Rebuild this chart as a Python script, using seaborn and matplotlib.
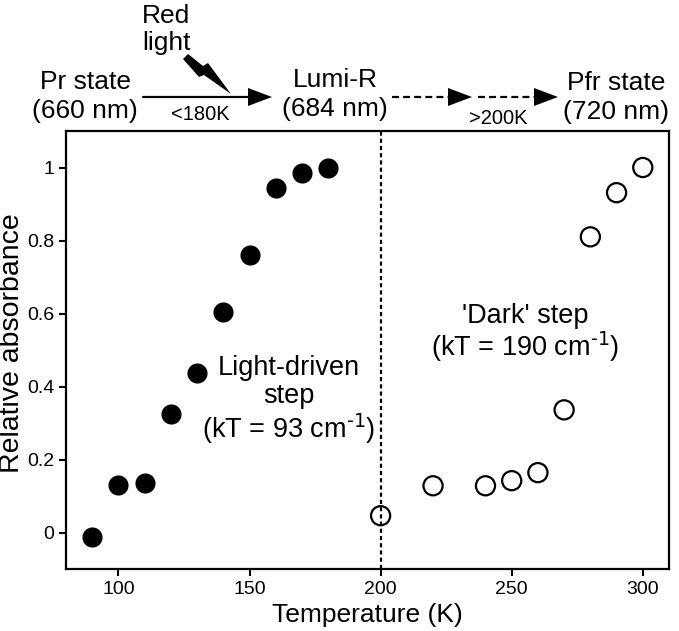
import matplotlib.pyplot as plt
import seaborn as sns
from matplotlib.lines import Line2D
from matplotlib.patches import Polygon

# light-driven step (filled circles) and 'dark' step (open circles)
light_temp = [90, 100, 110, 120, 130, 140, 150, 160, 170, 180]
light_abs = [-0.012, 0.131, 0.136, 0.325, 0.438, 0.603, 0.761, 0.945, 0.984, 1.0]
dark_temp = [200, 220, 240, 250, 260, 270, 280, 290, 300]
dark_abs = [0.046, 0.128, 0.128, 0.142, 0.164, 0.336, 0.81, 0.931, 1.0]

x_ticks = [100, 150, 200, 250, 300]
y_ticks = [0, 0.2, 0.4, 0.6, 0.8, 1]
y_tick_labels = ["0", "0.2", "0.4", "0.6", "0.8", "1"]

W, H = 679, 631

sns.set_style("ticks")
plt.rcParams["font.family"] = ["Liberation Sans", "DejaVu Sans"]
plt.rcParams["mathtext.default"] = "regular"
plt.rcParams["lines.scale_dashes"] = False
plt.rcParams["text.color"] = "black"
plt.rcParams["axes.labelcolor"] = "black"


def fxy(x, y):
    """pixel position (y from top) -> figure fraction"""
    return x / W, 1 - y / H


fig = plt.figure(figsize=(W / 100, H / 100), dpi=100)
ax = fig.add_axes([66 / W, 1 - 569 / H, (669 - 66) / W, (569 - 131) / H])

ax.axvline(200, color="black", lw=1.6, ls=(0, (3, 2.2)), zorder=1)
sns.scatterplot(x=light_temp, y=light_abs, ax=ax, color="black", s=210,
                linewidth=0, zorder=3)
sns.scatterplot(x=dark_temp, y=dark_abs, ax=ax, marker="o", s=190,
                facecolor="none", edgecolor="black", linewidth=1.6, zorder=3)

ax.set_xlim(80, 310)
ax.set_ylim(-0.1, 1.1)
ax.set_xticks(x_ticks)
ax.set_yticks(y_ticks)
ax.set_yticklabels(y_tick_labels)
ax.tick_params(labelsize=14, length=5, width=1.5, color="black", labelcolor="black")
for sp in ax.spines.values():
    sp.set_linewidth(1.6)
    sp.set_color("black")
ax.set_xlabel("Temperature (K)", fontsize=19, labelpad=4)
ax.set_ylabel("Relative absorbance", fontsize=20.5)
ax.yaxis.set_label_coords(-0.068, 0.515)

ax.text(165, 0.362, "Light-driven\nstep\n(kT = 93 cm$^{\\text{-1}}$)", ha="center",
        va="center", fontsize=19.5, linespacing=1.1)
ax.text(255, 0.545, "'Dark' step\n(kT = 190 cm$^{\\text{-1}}$)", ha="center",
        va="center", fontsize=19.5, linespacing=1.05)

# reaction scheme above the plot
for label, x, y in [("Pr state", 85, 89), ("(660 nm)", 85, 118),
                    ("Lumi-R", 335, 87), ("(684 nm)", 335, 116),
                    ("Pfr state", 616, 90), ("(720 nm)", 616, 119),
                    ("Red", 166, 23), ("light", 166, 50)]:
    fig.text(*fxy(x, y), label, ha="center", va="baseline", fontsize=19)
fig.text(*fxy(200, 120), "<180K", ha="center", va="baseline", fontsize=14.5)
fig.text(*fxy(498, 124), ">200K", ha="center", va="baseline", fontsize=14.5)


def arrow(x0, x1, y, dashed=False):
    head_len, half_w = 24, 9
    style = (0, (5, 3)) if dashed else "-"
    (a, b), (c, d) = fxy(x0, y), fxy(x1 - head_len + 2, y)
    fig.add_artist(Line2D([a, c], [b, d], transform=fig.transFigure,
                          color="black", lw=1.6, ls=style))
    head = [fxy(x1 - head_len, y - half_w), fxy(x1, y), fxy(x1 - head_len, y + half_w)]
    fig.add_artist(Polygon(head, closed=True, transform=fig.transFigure,
                           color="black", lw=0))


arrow(143, 272, 97)
arrow(392, 472, 97, dashed=True)
arrow(478, 558, 97, dashed=True)

bolt = [(183, 59), (188, 54), (203, 66), (208, 63), (231, 94), (204, 75), (199, 77)]
fig.add_artist(Polygon([fxy(x, y) for x, y in bolt], closed=True,
                       transform=fig.transFigure, color="black", lw=0))

fig.savefig("out.png", dpi=100)
